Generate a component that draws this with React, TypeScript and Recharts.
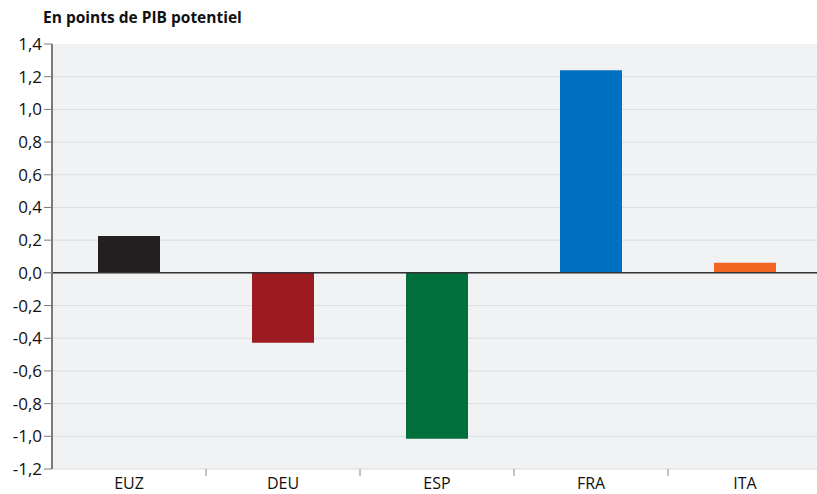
import React from 'react';
import { BarChart, Bar, XAxis, YAxis, CartesianGrid, ReferenceLine, Cell } from 'recharts';

const categories = ['EUZ', 'DEU', 'ESP', 'FRA', 'ITA'];
const values = [0.226, -0.428, -1.015, 1.24, 0.062];
const colors = ['#231f20', '#9b1b20', '#006f3c', '#0070c0', '#f26522'];
const yTicks = [-1.2, -1.0, -0.8, -0.6, -0.4, -0.2, 0, 0.2, 0.4, 0.6, 0.8, 1.0, 1.2, 1.4];

const data = categories.map((name, i) => ({ name, value: values[i] }));

const FONT = '"Open Sans", "Noto Sans", sans-serif';

const CHART_W = 822;
const PLOT_LEFT = 52;
const BAND = (CHART_W - PLOT_LEFT) / categories.length;

const fmt = (v: number) => v.toFixed(1).replace('.', ',');

const CategoryTick = (props: any) => {
  const { x, y, payload, index } = props;
  return (
    <g>
      {index < categories.length - 1 && (
        <line x1={x + BAND / 2} x2={x + BAND / 2} y1={y - 8} y2={y - 1} stroke="#888" strokeWidth={1} />
      )}
      <text x={x} y={y + 12} textAnchor="middle" fontSize={16} fill="#111" fontFamily={FONT}>
        {payload.value}
      </text>
    </g>
  );
};

export default function App() {
  return (
    <div style={{ position: 'absolute', left: 0, top: 0, width: 817, height: 494, overflow: 'hidden', background: '#fff' }}>
      <div
        style={{
          position: 'absolute',
          left: 43,
          top: 6,
          fontFamily: FONT,
          fontWeight: 700,
          fontSize: 15.5,
          color: '#111',
        }}
      >
        En points de PIB potentiel
      </div>
      <BarChart
        width={CHART_W}
        height={494}
        data={data}
        margin={{ top: 44, right: 0, bottom: 0, left: 0 }}
      >
        <CartesianGrid
          vertical={false}
          fill="#f1f2f4"
          stroke="#dcdde0"
          horizontalValues={yTicks.slice(0, -1)}
        />
        <XAxis
          dataKey="name"
          axisLine={false}
          tickLine={false}
          height={25}
          tick={<CategoryTick />}
          interval={0}
        />
        <YAxis
          domain={[-1.2, 1.4]}
          ticks={yTicks}
          tickFormatter={fmt}
          width={PLOT_LEFT}
          axisLine={{ stroke: '#7a7a7a', strokeWidth: 2 }}
          tickLine={{ stroke: '#7a7a7a' }}
          tickSize={8}
          tick={{ fontSize: 17, fill: '#111', fontFamily: FONT }}
          interval={0}
        />
        <Bar dataKey="value" isAnimationActive={false} barSize={62}>
          {data.map((d, i) => (
            <Cell key={d.name} fill={colors[i]} />
          ))}
        </Bar>
        <ReferenceLine y={0} stroke="#333" strokeWidth={1.5} />
      </BarChart>
    </div>
  );
}
